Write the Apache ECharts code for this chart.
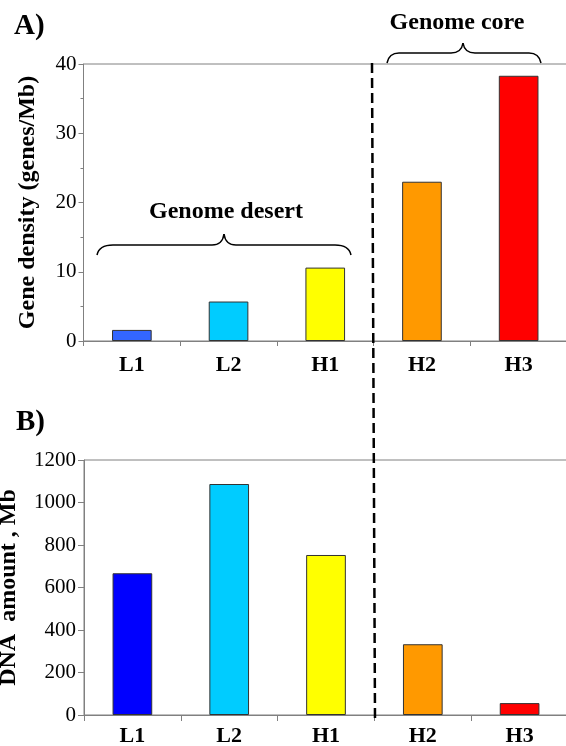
<!DOCTYPE html>
<html>
<head>
<meta charset="utf-8">
<script src="https://cdn.jsdelivr.net/npm/echarts@6/dist/echarts.min.js"></script>
<style>html,body{margin:0;padding:0;background:#fff;}#c{width:566px;height:746px;}</style>
</head>
<body>
<div id="c"></div>
<script>
var categories = ['L1', 'L2', 'H1', 'H2', 'H3'];
var geneDensity = [1.6, 5.7, 10.6, 23.0, 38.3];
var dnaAmount = [667, 1087, 753, 333, 56];
var colorsA = ['#3366FF', '#00CCFF', '#FFFF00', '#FF9900', '#FF0000'];
var colorsB = ['#0000FF', '#00CCFF', '#FFFF00', '#FF9900', '#FF0000'];
var ticksA = [0, 10, 20, 30, 40];
var ticksB = [0, 200, 400, 600, 800, 1000, 1200];

var FONT = "'Liberation Serif', 'Times New Roman', serif";
var AX = '#808080';

var chart = echarts.init(document.getElementById('c'));

function mkData(vals, cols) {
  return vals.map(function (v, i) {
    return { value: v, itemStyle: { color: cols[i] } };
  });
}
function plain(v) { return String(v); }

// curly brace built from quadratic curves and lines (annotation)
function brace(xl, xr, xp, yEnd, yFlat, yPeak, r) {
  var st = { stroke: '#000', lineWidth: 1.5, fill: null };
  return [
    { type: 'bezierCurve', shape: { x1: xl, y1: yEnd, cpx1: xl + 2, cpy1: yFlat, x2: xl + r, y2: yFlat }, style: st, z: 100 },
    { type: 'line', shape: { x1: xl + r, y1: yFlat, x2: xp - 12, y2: yFlat }, style: st, z: 100 },
    { type: 'bezierCurve', shape: { x1: xp - 12, y1: yFlat, cpx1: xp - 1.5, cpy1: yFlat, x2: xp, y2: yPeak }, style: st, z: 100 },
    { type: 'bezierCurve', shape: { x1: xp, y1: yPeak, cpx1: xp + 1.5, cpy1: yFlat, x2: xp + 12, y2: yFlat }, style: st, z: 100 },
    { type: 'line', shape: { x1: xp + 12, y1: yFlat, x2: xr - r, y2: yFlat }, style: st, z: 100 },
    { type: 'bezierCurve', shape: { x1: xr - r, y1: yFlat, cpx1: xr - 2, cpy1: yFlat, x2: xr, y2: yEnd }, style: st, z: 100 }
  ];
}

var graphics = [
  { type: 'text', x: 14, y: 12, style: { text: 'A)', fill: '#000', font: 'bold 29px ' + FONT } },
  { type: 'text', x: 16, y: 408, style: { text: 'B)', fill: '#000', font: 'bold 29px ' + FONT } },
  { type: 'line', shape: { x1: 372, y1: 63, x2: 375, y2: 720 }, style: { stroke: '#000', lineWidth: 2.5, lineDash: [10, 5] }, z: 100 },
  { type: 'text', x: 226, y: 212, style: { text: 'Genome desert', fill: '#000', font: 'bold 24px ' + FONT, textAlign: 'center', textVerticalAlign: 'middle' }, z: 100 },
  { type: 'text', x: 457, y: 23, style: { text: 'Genome core', fill: '#000', font: 'bold 24px ' + FONT, textAlign: 'center', textVerticalAlign: 'middle' }, z: 100 }
].concat(brace(97, 351, 224, 255, 245, 234, 16)).concat(brace(387, 541, 463, 63, 53, 43, 12));

var option = {
  animation: false,
  backgroundColor: '#fff',
  grid: [
    { left: 83.5, right: -1, top: 64, height: 277, containLabel: false, outerBoundsMode: 'none', show: true, borderColor: AX, borderWidth: 1, backgroundColor: 'transparent' },
    { left: 84, right: -2, top: 460, height: 255, containLabel: false, outerBoundsMode: 'none', show: true, borderColor: AX, borderWidth: 1, backgroundColor: 'transparent' }
  ],
  xAxis: [
    {
      gridIndex: 0, type: 'category', data: categories,
      axisLine: { lineStyle: { color: AX, width: 1 } },
      axisTick: { show: true, length: 5, lineStyle: { color: AX } },
      axisLabel: { color: '#000', fontFamily: FONT, fontWeight: 'bold', fontSize: 22, margin: 13 }
    },
    {
      gridIndex: 1, type: 'category', data: categories,
      axisLine: { lineStyle: { color: AX, width: 1 } },
      axisTick: { show: true, length: 6, lineStyle: { color: AX } },
      axisLabel: { color: '#000', fontFamily: FONT, fontWeight: 'bold', fontSize: 22, margin: 10 }
    }
  ],
  yAxis: [
    {
      gridIndex: 0, type: 'value', min: ticksA[0], max: ticksA[ticksA.length - 1], interval: ticksA[1] - ticksA[0],
      name: 'Gene density (genes/Mb)', nameLocation: 'middle', nameGap: 44,
      nameTextStyle: { color: '#000', fontFamily: FONT, fontWeight: 'bold', fontSize: 24 },
      axisLine: { show: true, lineStyle: { color: AX, width: 1 } },
      axisTick: { show: true, length: 5, lineStyle: { color: AX } },
      minorTick: { show: true, splitNumber: 2, length: 3, lineStyle: { color: AX } },
      splitLine: { show: false },
      axisLabel: { color: '#000', fontFamily: FONT, fontSize: 21, margin: 7, formatter: plain }
    },
    {
      gridIndex: 1, type: 'value', min: ticksB[0], max: ticksB[ticksB.length - 1], interval: ticksB[1] - ticksB[0],
      name: 'DNA  amount , Mb', nameLocation: 'middle', nameGap: 63,
      nameTextStyle: { color: '#000', fontFamily: FONT, fontWeight: 'bold', fontSize: 24 },
      axisLine: { show: true, lineStyle: { color: AX, width: 1 } },
      axisTick: { show: true, length: 6, lineStyle: { color: AX } },
      splitLine: { show: false },
      axisLabel: { color: '#000', fontFamily: FONT, fontSize: 21, margin: 8, formatter: plain }
    }
  ],
  series: [
    {
      type: 'bar', xAxisIndex: 0, yAxisIndex: 0, barWidth: '41%',
      data: mkData(geneDensity, colorsA),
      itemStyle: { borderColor: '#333', borderWidth: 1 }
    },
    {
      type: 'bar', xAxisIndex: 1, yAxisIndex: 1, barWidth: '41%',
      data: mkData(dnaAmount, colorsB),
      itemStyle: { borderColor: '#333', borderWidth: 1 }
    }
  ],
  graphic: graphics
};
chart.setOption(option);
</script>
</body>
</html>
